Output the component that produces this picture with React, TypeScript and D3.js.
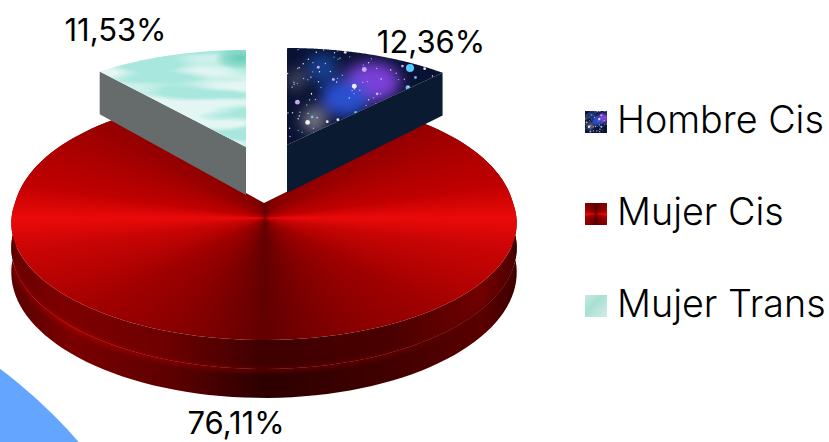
import React from "react";
import * as d3 from "d3";

const categories = ["Hombre Cis", "Mujer Cis", "Mujer Trans"];
const shares = [12.36, 76.11, 11.53];
const shareLabels = ["12,36%", "76,11%", "11,53%"];

const W = 829, H = 442;
const CX = 264, CY = 203, RX = 249, RY = 113.6, TILT = 0.171, DEPTH = 48;
const explode = [[23, -58], [0, 0], [-18, -56]];
const farLift = [0, 10, 0];
const labelPos = [[431, 53], [236, 434], [115.5, 41]];
const FONT = "Inter, 'Noto Sans', sans-serif";

const pie = d3.pie<number>().sort(null).value((d) => d);
const arcs = pie(shares);

type P = [number, number];
const project = (t: number, r: number, z: number, o: number[], lift = 0): P => {
  const u = Math.sin(t) * r, v = Math.cos(t) * r;
  const s = 1 / (1 + TILT * v);
  const k = Math.max(v, 0) * lift;
  return [CX + o[0] + RX * u * s + u * k, CY + o[1] - RY * v * s - k + z * DEPTH * s];
};
const line = d3.line<P>();
const arcPts = (a: number, b: number, z: number, i: number): P[] =>
  d3.range(0, 121).map((j) => project(a + ((b - a) * j) / 120, 1, z, explode[i], farLift[i]));
const topPath = (i: number) => {
  const { startAngle: a, endAngle: b } = arcs[i];
  return line([project(0, 0, 0, explode[i]), ...arcPts(a, b, 0, i)])! + "Z";
};
const rimBand = (i: number, z0: number, z1: number) => {
  const { startAngle: a, endAngle: b } = arcs[i];
  return line([...arcPts(a, b, z0, i), ...arcPts(a, b, z1, i).reverse()])! + "Z";
};
const wall = (i: number, t: number) => {
  const o = explode[i];
  return line([project(0, 0, 0, o), project(t, 1, 0, o), project(t, 1, 1, o), project(0, 0, 1, o)])! + "Z";
};

// star-field texture (fixed hash, purely decorative)
const fract = (x: number) => x - Math.floor(x);
const stars = d3.range(0, 170).map((i) => ({
  x: 285 + fract(Math.sin(i * 12.9898) * 43758.5453) * 160,
  y: 48 + fract(Math.sin(i * 78.233) * 24634.6345) * 100,
  r: i % 13 === 0 ? 2.4 : i % 5 === 0 ? 1.4 : 0.7,
  c: i % 3 === 0 ? "#6fc8ff" : i % 3 === 1 ? "#ffffff" : "#d9b8ff",
}));

const Galaxy = ({ scale = 1 }: { scale?: number }) => (
  <>
    <rect x={280} y={45} width={170} height={110} fill="#0a1233" />
    <g filter="url(#soft)">
      <ellipse cx={372} cy={82} rx={28} ry={20} fill="#7a3fd8" />
      <ellipse cx={345} cy={98} rx={24} ry={18} fill="#2a4fd0" />
      <ellipse cx={322} cy={68} rx={16} ry={14} fill="#163f90" />
      <ellipse cx={314} cy={120} rx={12} ry={13} fill="#90909a" opacity={0.8} />
      <ellipse cx={296} cy={80} rx={7} ry={9} fill="#80808a" opacity={0.7} />
    </g>
    {stars.map((s, i) => (
      <circle key={i} cx={s.x} cy={s.y} r={s.r * scale} fill={s.c} opacity={0.9} />
    ))}
    <circle cx={410} cy={68} r={4} fill="#58c8ff" />
  </>
);

const Red = ({ x, y, w, h, cx, cy }: any) => (
  <foreignObject x={x} y={y} width={w} height={h}>
    <div
      style={{
        width: w,
        height: h,
        background: `conic-gradient(from 0deg at ${cx - x}px ${cy - y}px, #6a0000 0deg, #960000 60deg, #c00000 82deg, #ea0a0a 90deg, #c80404 98deg, #a00000 118deg, #620000 180deg, #a00000 242deg, #c80404 262deg, #ea0a0a 270deg, #c00000 278deg, #960000 300deg, #6a0000 360deg)`,
      }}
    />
  </foreignObject>
);

export default function App() {
  return (
    <svg width={W} height={H} style={{ position: "absolute", left: 0, top: 0, background: "#fff" }}>
      <defs>
        <filter id="soft" x="-50%" y="-50%" width="200%" height="200%">
          <feGaussianBlur stdDeviation="7" />
        </filter>
        <filter id="seam" x="-10%" y="-50%" width="120%" height="200%">
          <feGaussianBlur stdDeviation="2" />
        </filter>
        <filter id="mint" x="0" y="0" width="100%" height="100%">
          <feTurbulence type="fractalNoise" baseFrequency="0.009 0.05" numOctaves="2" seed="3" />
          <feColorMatrix values="0 0 0 0 0.39  0 0 0 0 0.80  0 0 0 0 0.72  6 0 0 0 -2.6" />
        </filter>
        <clipPath id="c0"><path d={topPath(0)} /></clipPath>
        <clipPath id="c1"><path d={topPath(1)} /></clipPath>
        <clipPath id="c2"><path d={topPath(2)} /></clipPath>
        <radialGradient id="mintBlob" cx="0.5" cy="0.5" r="0.5">
          <stop offset="0" stopColor="#63cdb8" />
          <stop offset="0.6" stopColor="#7fd6c4" stopOpacity={0.8} />
          <stop offset="1" stopColor="#7fd6c4" stopOpacity={0} />
        </radialGradient>
        <linearGradient id="rimUpper" gradientUnits="userSpaceOnUse" x1={11} x2={518} y1={0} y2={0}>
          <stop offset="0" stopColor="#650000" />
          <stop offset="0.1" stopColor="#7e0000" />
          <stop offset="0.3" stopColor="#6e0000" />
          <stop offset="0.5" stopColor="#3e0000" />
          <stop offset="0.75" stopColor="#4a0000" />
          <stop offset="0.93" stopColor="#700000" />
          <stop offset="1" stopColor="#4a0000" />
        </linearGradient>
        <linearGradient id="rimLower" gradientUnits="userSpaceOnUse" x1={11} x2={518} y1={0} y2={0}>
          <stop offset="0" stopColor="#5a0000" />
          <stop offset="0.12" stopColor="#7a0000" />
          <stop offset="0.32" stopColor="#5c0000" />
          <stop offset="0.5" stopColor="#2c0000" />
          <stop offset="0.75" stopColor="#420000" />
          <stop offset="0.93" stopColor="#5a0000" />
          <stop offset="1" stopColor="#3a0000" />
        </linearGradient>
        <linearGradient id="seamGrad" gradientUnits="userSpaceOnUse" x1={11} x2={518} y1={0} y2={0}>
          <stop offset="0" stopColor="#900000" />
          <stop offset="0.12" stopColor="#b80a0a" />
          <stop offset="0.35" stopColor="#8c0000" />
          <stop offset="0.5" stopColor="#700000" />
          <stop offset="0.75" stopColor="#6a0000" />
          <stop offset="1" stopColor="#500000" />
        </linearGradient>
      </defs>

      <circle cx={-300} cy={770} r={501} fill="#64a6ff" />

      <path d={rimBand(1, 0, 0.5)} fill="url(#rimUpper)" />
      <path d={rimBand(1, 0.5, 1)} fill="url(#rimLower)" />
      <path
        d={line(arcPts(arcs[1].startAngle, arcs[1].endAngle, 0.52, 1).slice(28, 92))!}
        fill="none"
        stroke="url(#seamGrad)"
        strokeWidth={3}
        filter="url(#seam)"
      />
      <g clipPath="url(#c1)">
        <Red x={0} y={90} w={530} h={270} cx={265} cy={218} />
      </g>

      <path d={wall(2, arcs[2].startAngle)} fill="#666b6b" />
      <path d={wall(0, arcs[0].endAngle)} fill="#0a1a30" />

      <g clipPath="url(#c0)"><Galaxy /></g>
      <g clipPath="url(#c2)">
        <rect x={90} y={40} width={170} height={115} fill="#e4f6f3" />
        <rect x={90} y={40} width={170} height={115} filter="url(#mint)" />
        <ellipse cx={240} cy={58} rx={26} ry={12} fill="url(#mintBlob)" />
      </g>

      {shareLabels.map((t, i) => (
        <text key={t} x={labelPos[i][0]} y={labelPos[i][1]} textAnchor="middle" fontFamily={FONT} fontSize={31} fill="#000">
          {t}
        </text>
      ))}

      {categories.map((c, i) => {
        const y = 111 + i * 92;
        return (
          <g key={c}>
            {i === 0 && (
              <svg x={585} y={y} width={22} height={22} viewBox="290 50 100 100" preserveAspectRatio="none">
                <Galaxy scale={2} />
              </svg>
            )}
            {i === 1 && (
              <foreignObject x={585} y={y} width={22} height={22}>
                <div style={{ width: 22, height: 22, background: "conic-gradient(#5c0000 0deg, #a00000 70deg, #e80808 90deg, #a00000 110deg, #5c0000 180deg, #a00000 250deg, #e80808 270deg, #a00000 290deg, #5c0000 360deg)" }} />
              </foreignObject>
            )}
            {i === 2 && (
              <g>
                <linearGradient id="sw2" x1="0" y1="0" x2="1" y2="1">
                  <stop offset="0" stopColor="#c8ebe3" />
                  <stop offset="0.4" stopColor="#a6e0d2" />
                  <stop offset="1" stopColor="#d4ece8" />
                </linearGradient>
                <rect x={585} y={y} width={22} height={22} fill="url(#sw2)" />
              </g>
            )}
            <text x={617} y={y + 22} fontFamily={FONT} fontSize={37.7} fontWeight={300} fill="#000">
              {c}
            </text>
          </g>
        );
      })}
    </svg>
  );
}
